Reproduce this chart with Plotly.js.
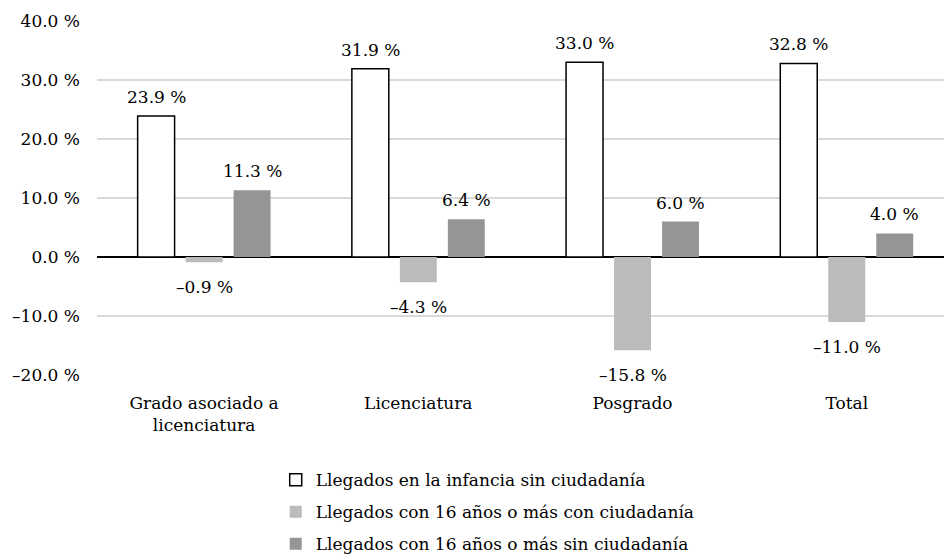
<!DOCTYPE html>
<html>
<head>
<meta charset="utf-8">
<script src="https://cdn.plot.ly/plotly-3.0.1.min.js"></script>
<style>
  html, body { margin: 0; padding: 0; background: #ffffff; }
  #chart { width: 944px; height: 554px; }
</style>
</head>
<body>
<div id="chart"></div>
<script>
// Categories (education level)
const categories = ["Grado asociado a<br>licenciatura", "Licenciatura", "Posgrado", "Total"];

// Series values, in percent
const seriesNames = [
  "Llegados en la infancia sin ciudadanía",
  "Llegados con 16 años o más con ciudadanía",
  "Llegados con 16 años o más sin ciudadanía"
];
const infanciaSinCiudadania = [23.9, 31.9, 33.0, 32.8];
const mayoresConCiudadania  = [-0.9, -4.3, -15.8, -11.0];
const mayoresSinCiudadania  = [11.3, 6.4, 6.0, 4.0];

// Y axis ticks
const yTickVals = [-20, -10, 0, 10, 20, 30, 40];
const yTickText = ["–20.0 %", "–10.0 %", "0.0 %", "10.0 %", "20.0 %", "30.0 %", "40.0 %"];

const FONT = "DejaVu Serif";
const FSIZE = 17;
const BARGAP = 0.328;
const BARGROUPGAP = 0.23;

const fmt = v => (v < 0 ? "–" : "") + Math.abs(v).toFixed(1) + " %";

const allSeries = [infanciaSinCiudadania, mayoresConCiudadania, mayoresSinCiudadania];
const styles = [
  { color: "#ffffff", line: { color: "#000000", width: 1.5 } },
  { color: "#bbbbbb", line: { color: "#bbbbbb", width: 0 } },
  { color: "#959595", line: { color: "#959595", width: 0 } }
];

const xIdx = categories.map((_, i) => i);

const traces = allSeries.map((vals, k) => ({
  type: "bar",
  name: seriesNames[k],
  x: xIdx,
  y: vals,
  marker: styles[k],
  legendgroup: "g" + k,
  hoverinfo: "skip"
}));

// Value labels placed over each bar of the group
const slot = (1 - BARGAP) / allSeries.length;
const annotations = [];
allSeries.forEach((vals, k) => {
  vals.forEach((v, i) => {
    annotations.push({
      x: i + (k - (allSeries.length - 1) / 2) * slot,
      y: v,
      xref: "x", yref: "y",
      text: fmt(v),
      showarrow: false,
      xanchor: "center",
      yanchor: "middle",
      yshift: v >= 0 ? 19 : -25,
      font: { family: FONT, size: FSIZE, color: "#000000" }
    });
  });
});

const layout = {
  width: 944,
  height: 554,
  margin: { l: 97, r: 0, t: 21, b: 179, autoexpand: false },
  paper_bgcolor: "#ffffff",
  plot_bgcolor: "#ffffff",
  font: { family: FONT, size: FSIZE, color: "#000000" },
  barmode: "group",
  bargap: BARGAP,
  bargroupgap: BARGROUPGAP,
  showlegend: true,
  legend: {
    orientation: "v",
    x: 0.211, xanchor: "left",
    y: -0.246, yanchor: "top",
    tracegroupgap: 7,
    font: { family: FONT, size: FSIZE, color: "#000000" },
    bgcolor: "rgba(0,0,0,0)"
  },
  xaxis: {
    type: "linear",
    range: [-0.5, 3.454],
    tickvals: xIdx,
    ticktext: categories,
    showgrid: false,
    zeroline: false,
    showline: false,
    ticks: "",
    ticklabelstandoff: 16,
    fixedrange: true
  },
  yaxis: {
    range: [-20, 40],
    tickvals: yTickVals,
    ticktext: yTickText,
    showgrid: true,
    gridcolor: "#d9d9d9",
    gridwidth: 1.5,
    zeroline: true,
    zerolinecolor: "#000000",
    zerolinewidth: 1.5,
    showline: false,
    ticks: "",
    ticklabelstandoff: 16,
    fixedrange: true
  },
  annotations: annotations
};

Plotly.newPlot("chart", traces, layout, { displayModeBar: false, staticPlot: true });
</script>
</body>
</html>
